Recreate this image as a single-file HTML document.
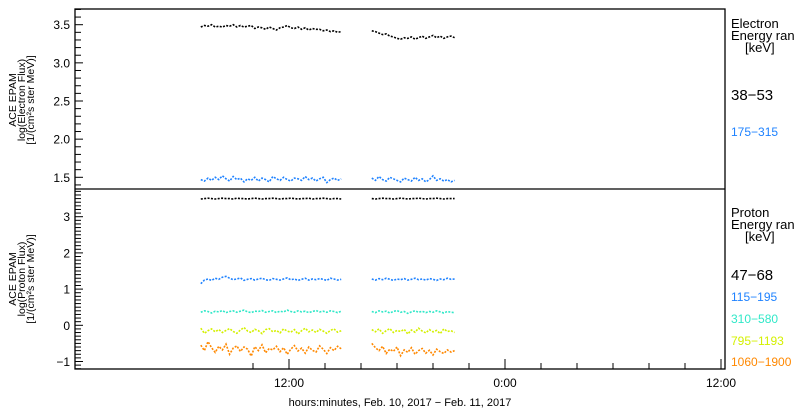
<!DOCTYPE html>
<html><head><meta charset="utf-8">
<style>
html,body{margin:0;padding:0;background:#fff;}
svg{display:block;font-family:"Liberation Sans",sans-serif;}
</style></head>
<body>
<svg id="chart" width="800" height="410" viewBox="0 0 800 410" xmlns="http://www.w3.org/2000/svg">
<rect x="0" y="0" width="800" height="410" fill="#fff"/>
<g id="axes"></g>
<g id="series"></g>
<g font-size="10.5" fill="#000" text-anchor="middle">
  <text transform="translate(16,100) rotate(-90)">ACE EPAM</text>
  <text transform="translate(25,100) rotate(-90)">log(Electron Flux)</text>
  <text transform="translate(34,100) rotate(-90)">[1/(cm²s ster MeV)]</text>
</g>
<g font-size="10.5" fill="#000" text-anchor="middle">
  <text transform="translate(16,279) rotate(-90)">ACE EPAM</text>
  <text transform="translate(25,279) rotate(-90)">log(Proton Flux)</text>
  <text transform="translate(34,279) rotate(-90)">[1/(cm²s ster MeV)]</text>
</g>
<g font-size="13" fill="#000">
  <text x="731" y="28">Electron</text>
  <text x="731" y="40">Energy ran</text>
  <text x="745" y="52">[keV]</text>
  <text x="731" y="100" font-size="15">38−53</text>
  <text x="731" y="136" font-size="12" fill="#1e82ff">175−315</text>
</g>
<g font-size="13" fill="#000">
  <text x="731" y="217">Proton</text>
  <text x="731" y="229">Energy ran</text>
  <text x="745" y="241">[keV]</text>
  <text x="731" y="280" font-size="15">47−68</text>
  <text x="731" y="301" font-size="12" fill="#1e82ff">115−195</text>
  <text x="731" y="323" font-size="12" fill="#30e8c8">310−580</text>
  <text x="731" y="345" font-size="12" fill="#d4f000">795−1193</text>
  <text x="731" y="366" font-size="12" fill="#ff8800">1060−1900</text>
</g>
<text x="400" y="406" font-size="11" text-anchor="middle" fill="#000">hours:minutes, Feb. 10, 2017 − Feb. 11, 2017</text>
</svg>
<script>
const xTickHours=[10,12,14,16,18,20,22,24,26,28,30,32,34,36];
const xMajorHours=[12,24,36];
const xTickLabels=["12:00","0:00","12:00"];
const topTicks=[1.5,2.0,2.5,3.0,3.5];
const topTickLabels=["1.5","2.0","2.5","3.0","3.5"];
const botTicks=[-1,0,1,2,3];
const botTickLabels=["−1","0","1","2","3"];
const segAStart=7.1, segBStart=16.6, stepH=0.2;
const e1A=[3.47,3.49,3.48,3.50,3.47,3.48,3.47,3.49,3.48,3.50,3.47,3.49,3.47,3.48,3.49,3.45,3.47,3.46,3.44,3.47,3.45,3.43,3.46,3.47,3.49,3.46,3.45,3.47,3.44,3.46,3.43,3.45,3.44,3.44,3.42,3.43,3.41,3.42,3.40,3.41];
const e1B=[3.42,3.41,3.39,3.37,3.38,3.35,3.34,3.32,3.31,3.33,3.32,3.34,3.31,3.33,3.35,3.32,3.34,3.36,3.33,3.35,3.32,3.34,3.35,3.33];
const e2A=[1.47,1.45,1.49,1.46,1.50,1.47,1.52,1.48,1.45,1.51,1.47,1.49,1.44,1.48,1.46,1.50,1.45,1.49,1.47,1.44,1.51,1.48,1.46,1.50,1.47,1.45,1.49,1.48,1.46,1.51,1.47,1.49,1.45,1.48,1.50,1.43,1.47,1.49,1.46,1.48];
const e2B=[1.49,1.46,1.51,1.47,1.45,1.50,1.48,1.46,1.44,1.49,1.47,1.45,1.50,1.46,1.48,1.44,1.47,1.52,1.46,1.48,1.45,1.47,1.44,1.46];
const p1A=[3.49,3.50,3.51,3.50,3.49,3.50,3.51,3.50,3.50,3.49,3.51,3.50,3.50,3.49,3.50,3.51,3.50,3.49,3.50,3.50,3.51,3.50,3.49,3.50,3.50,3.51,3.50,3.49,3.50,3.50,3.51,3.49,3.50,3.50,3.51,3.50,3.49,3.50,3.50,3.49];
const p1B=[3.50,3.49,3.50,3.51,3.50,3.50,3.49,3.50,3.51,3.50,3.49,3.50,3.50,3.51,3.50,3.49,3.50,3.50,3.51,3.50,3.49,3.50,3.50,3.50];
const p2A=[1.15,1.25,1.28,1.24,1.30,1.27,1.33,1.35,1.30,1.26,1.28,1.31,1.24,1.27,1.29,1.25,1.28,1.30,1.26,1.24,1.29,1.27,1.25,1.28,1.31,1.26,1.28,1.24,1.27,1.30,1.25,1.28,1.26,1.29,1.27,1.24,1.30,1.28,1.25,1.27];
const p2B=[1.28,1.25,1.29,1.26,1.30,1.27,1.24,1.28,1.26,1.29,1.25,1.27,1.30,1.26,1.28,1.25,1.29,1.27,1.24,1.28,1.26,1.30,1.27,1.28];
const p3A=[0.36,0.40,0.38,0.34,0.39,0.37,0.41,0.35,0.38,0.40,0.36,0.39,0.42,0.37,0.35,0.39,0.38,0.41,0.36,0.38,0.40,0.35,0.39,0.37,0.42,0.38,0.36,0.40,0.37,0.39,0.35,0.38,0.41,0.37,0.39,0.36,0.40,0.38,0.35,0.39];
const p3B=[0.38,0.35,0.40,0.37,0.39,0.34,0.38,0.41,0.36,0.38,0.33,0.37,0.40,0.36,0.39,0.35,0.38,0.36,0.40,0.37,0.34,0.38,0.36,0.35];
const p4A=[-0.08,-0.22,-0.15,-0.10,-0.18,-0.12,-0.20,-0.14,-0.09,-0.17,-0.22,-0.13,-0.06,-0.16,-0.20,-0.11,-0.15,-0.23,-0.12,-0.09,-0.18,-0.14,-0.21,-0.10,-0.16,-0.19,-0.12,-0.24,-0.15,-0.08,-0.18,-0.13,-0.20,-0.11,-0.16,-0.22,-0.14,-0.10,-0.19,-0.15];
const p4B=[-0.12,-0.18,-0.10,-0.22,-0.15,-0.09,-0.20,-0.14,-0.17,-0.11,-0.24,-0.13,-0.19,-0.08,-0.16,-0.21,-0.12,-0.18,-0.14,-0.23,-0.10,-0.17,-0.15,-0.20];
const p5A=[-0.55,-0.70,-0.45,-0.62,-0.75,-0.58,-0.68,-0.52,-0.80,-0.63,-0.57,-0.72,-0.60,-0.66,-0.85,-0.59,-0.70,-0.54,-0.76,-0.64,-0.68,-0.58,-0.73,-0.62,-0.80,-0.66,-0.56,-0.71,-0.63,-0.77,-0.60,-0.69,-0.74,-0.57,-0.66,-0.78,-0.62,-0.70,-0.58,-0.65];
const p5B=[-0.50,-0.62,-0.70,-0.58,-0.78,-0.66,-0.72,-0.60,-0.84,-0.68,-0.75,-0.62,-0.80,-0.70,-0.64,-0.77,-0.69,-0.82,-0.66,-0.73,-0.78,-0.68,-0.74,-0.70];

const NS="http://www.w3.org/2000/svg";
const L=75,R=725,T=9,M=189,B=369;
function xS(h){return 289+(h-12)*18;}
function yTop(v){return 24.7+(3.5-v)*76.3;}
function yBot(v){return 325.3-v*36.2;}
function mk(tag,attrs,parent){const e=document.createElementNS(NS,tag);for(const k in attrs)e.setAttribute(k,attrs[k]);parent.appendChild(e);return e;}
const ax=document.getElementById('axes');
const fr=mk('rect',{x:L,y:T,width:R-L,height:B-T,fill:'none',stroke:'#000','stroke-width':1.3},ax);


const dv=mk('line',{x1:L,x2:R,y1:M,y2:M,stroke:'#000','stroke-width':1.3},ax);


for(let i=14;i<=37;i++){const v=i/10;const y=yTop(v);if(y<T||y>M)continue;const major=(i%5===0);
 const t=mk('line',{x1:L,x2:L+(major?8:6),y1:y,y2:y,stroke:'#000','stroke-width':1},ax);
 
 }
topTicks.forEach((v,i)=>{const t=mk('text',{x:70,y:yTop(v)+4.5,'font-size':12,'text-anchor':'end',fill:'#000'},ax);t.textContent=topTickLabels[i];
 
 });
for(let i=-12;i<=37;i++){const v=i/10;const y=yBot(v);if(y<M||y>B)continue;const major=(i%10===0);
 const t=mk('line',{x1:L,x2:L+(major?8:6),y1:y,y2:y,stroke:'#000','stroke-width':1},ax);
 
 }
botTicks.forEach((v,i)=>{const t=mk('text',{x:70,y:yBot(v)+4.5,'font-size':12,'text-anchor':'end',fill:'#000'},ax);t.textContent=botTickLabels[i];
 
 });
xTickHours.forEach(h=>{const x=xS(h);if(x<L||x>R)return;const major=xMajorHours.includes(h);
 const t=mk('line',{x1:x,x2:x,y1:B,y2:B-(major?10:6),stroke:'#000','stroke-width':1},ax);
 
 });
xMajorHours.forEach((h,i)=>{const t=mk('text',{x:xS(h),y:387,'font-size':12,'text-anchor':'middle',fill:'#000'},ax);t.textContent=xTickLabels[i];
 
 });
const sg=document.getElementById('series');
function draw(name,arr,start,yf,color){
 const pts=arr.map((v,i)=>xS(start+i*stepH).toFixed(1)+','+yf(v).toFixed(1)).join(' ');
 const p=mk('polyline',{points:pts,fill:'none',stroke:color,'stroke-width':1.6,'stroke-dasharray':'2,1.4'},sg);
 
 
}
const S=[["electron-38-53",e1A,e1B,yTop,"#000"],["electron-175-315",e2A,e2B,yTop,"#1e82ff"],
 ["proton-47-68",p1A,p1B,yBot,"#000"],["proton-115-195",p2A,p2B,yBot,"#1e82ff"],
 ["proton-310-580",p3A,p3B,yBot,"#30e8c8"],["proton-795-1193",p4A,p4B,yBot,"#d4f000"],
 ["proton-1060-1900",p5A,p5B,yBot,"#ff8800"]];
S.forEach(s=>{draw(s[0]+'-segment-1',s[1],segAStart,s[3],s[4]);draw(s[0]+'-segment-2',s[2],segBStart,s[3],s[4]);});
</script>
</body></html>
